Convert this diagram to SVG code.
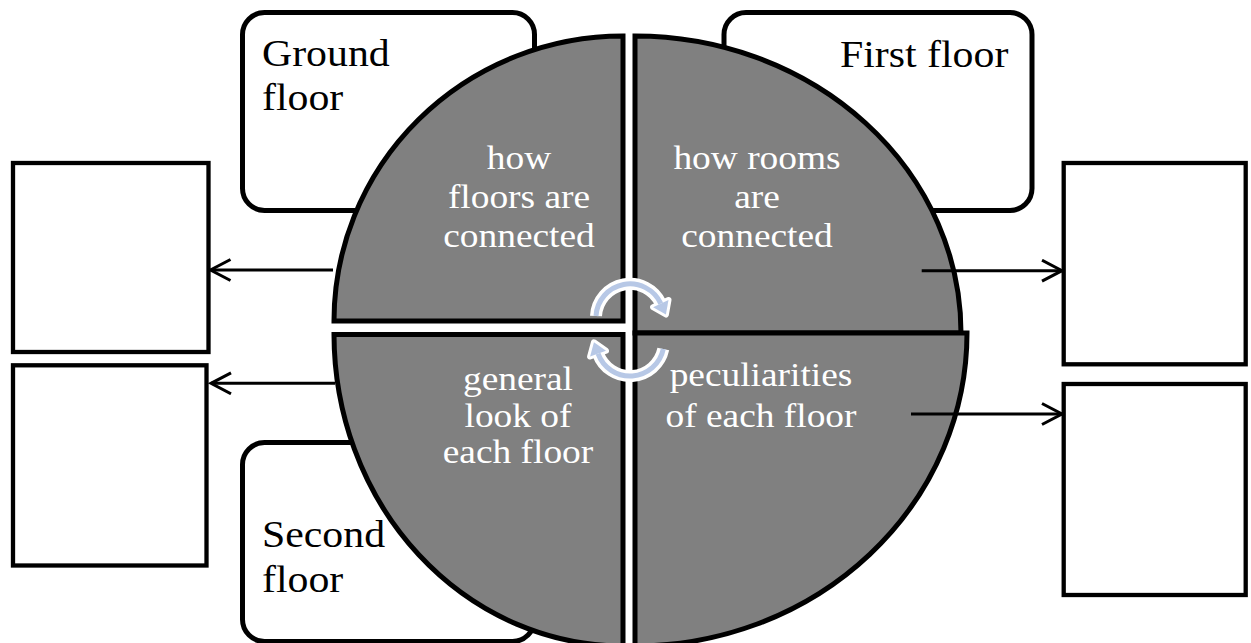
<svg xmlns="http://www.w3.org/2000/svg" width="1251" height="643" viewBox="0 0 1251 643">
<defs>
<style>
.rbox{fill:#fff;stroke:#000;stroke-width:5}
.sq{fill:#fff;stroke:#000;stroke-width:4.3}
.sec{fill:#808080;stroke:#000;stroke-width:5;stroke-linejoin:miter}
.lbl{font-family:"Liberation Serif","Times New Roman",serif;font-size:38px;fill:#000}
.wt{font-family:"Liberation Serif","Times New Roman",serif;font-size:34px;fill:#fff;text-anchor:middle}
.conn{fill:none;stroke:#000;stroke-width:3}
.cycw{fill:none;stroke:#fff;stroke-width:12}
.cycb{fill:none;stroke:#b7c8e6;stroke-width:5}
.headw{fill:#fff;stroke:#fff;stroke-width:6;stroke-linejoin:round}
.headb{fill:#b7c8e6;stroke:none}
</style>
<marker id="ah" markerWidth="26" markerHeight="26" refX="22" refY="12" orient="auto" markerUnits="userSpaceOnUse">
<path d="M2,1.5 L22,12 L2,22.5" fill="none" stroke="#000" stroke-width="3"/>
</marker>
</defs>
<rect width="1251" height="643" fill="#fff"/>

<g id="ground-floor">
<rect class="rbox" x="242.5" y="12.5" width="292" height="198" rx="22"/>
<text class="lbl" transform="translate(262,66) scale(1.1,1)">Ground</text>
<text class="lbl" transform="translate(262,110) scale(1.1,1)">floor</text>
</g>
<g id="first-floor">
<rect class="rbox" x="724" y="12.5" width="308" height="198" rx="22"/>
<text class="lbl" transform="translate(840,67) scale(1.1,1)">First floor</text>
</g>
<g id="second-floor">
<rect class="rbox" x="242.5" y="442.5" width="292" height="199" rx="22"/>
<text class="lbl" transform="translate(262,547) scale(1.1,1)">Second</text>
<text class="lbl" transform="translate(262,592) scale(1.1,1)">floor</text>
</g>

<g id="box-left-top"><rect class="sq" x="13" y="163" width="195.5" height="189"/></g>
<g id="box-left-bottom"><rect class="sq" x="13" y="365.3" width="193.5" height="200.2"/></g>
<g id="box-right-top"><rect class="sq" x="1063.7" y="163" width="182" height="201.3"/></g>
<g id="box-right-bottom"><rect class="sq" x="1063.7" y="384" width="182" height="211"/></g>

<g id="sector-floors-connected">
<path class="sec" d="M623,321 L334,321 A289,285 0 0 1 623,36 Z"/>
<text class="wt" transform="translate(519,169) scale(1.1,1)">how</text>
<text class="wt" transform="translate(519,208) scale(1.1,1)">floors are</text>
<text class="wt" transform="translate(519,247) scale(1.1,1)">connected</text>
</g>
<g id="sector-rooms-connected">
<path class="sec" d="M635,333 L635,36 A326,297 0 0 1 961,333 Z"/>
<text class="wt" transform="translate(757,169) scale(1.1,1)">how rooms</text>
<text class="wt" transform="translate(757,208) scale(1.1,1)">are</text>
<text class="wt" transform="translate(757,247) scale(1.1,1)">connected</text>
</g>
<g id="sector-peculiarities">
<path class="sec" d="M635,333 L967,333 A332,313 0 0 1 635,646 Z"/>
<text class="wt" transform="translate(761,386) scale(1.1,1)">peculiarities</text>
<text class="wt" transform="translate(761,427) scale(1.1,1)">of each floor</text>
</g>
<g id="sector-general-look">
<path class="sec" d="M623,334.5 L623,646 A289,312 0 0 1 334,334.5 Z"/>
<text class="wt" transform="translate(518,390) scale(1.1,1)">general</text>
<text class="wt" transform="translate(518,427) scale(1.1,1)">look of</text>
<text class="wt" transform="translate(518,463) scale(1.1,1)">each floor</text>
</g>

<g id="cycle-arrows">
<path class="cycw" d="M596,316 A34,34 0 0 1 660.8,303.6"/>
<polygon class="headw" points="668.5,300 653.1,307.2 665.9,314.5"/>
<path class="cycw" d="M663.3,349.1 A34,34 0 0 1 598.05,353.6"/>
<polygon class="headw" points="590.1,356.5 606,350.7 593.95,342.3"/>
<path class="cycb" d="M596,316 A34,34 0 0 1 660.8,303.6"/>
<polygon class="headb" points="668.5,300 653.1,307.2 665.9,314.5"/>
<path class="cycb" d="M663.3,349.1 A34,34 0 0 1 598.05,353.6"/>
<polygon class="headb" points="590.1,356.5 606,350.7 593.95,342.3"/>
</g>

<g id="connectors">
<line class="conn" x1="333" y1="270" x2="210.5" y2="270" marker-end="url(#ah)"/>
<line class="conn" x1="335" y1="383.3" x2="211" y2="383.3" marker-end="url(#ah)"/>
<line class="conn" x1="921.7" y1="270.7" x2="1062" y2="270.7" marker-end="url(#ah)"/>
<line class="conn" x1="911" y1="414" x2="1062" y2="414" marker-end="url(#ah)"/>
</g>
</svg>
